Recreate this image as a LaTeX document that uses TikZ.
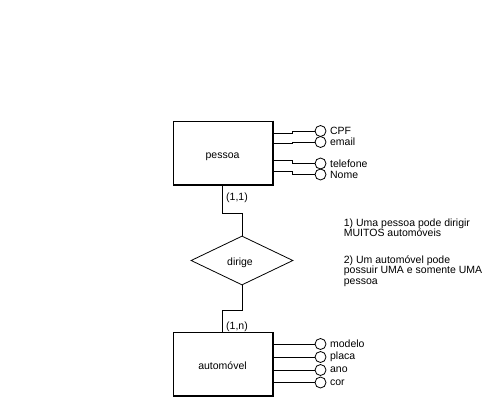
\documentclass[tikz,border=0pt]{standalone}
\usepackage{fontspec}
\setmainfont{Liberation Sans}
\usetikzlibrary{shapes.geometric}
\tikzset{
  entity/.style={draw, minimum width=99pt, minimum height=63pt, inner sep=0pt},
  relation/.style={draw, diamond, minimum width=102pt, minimum height=49pt, inner sep=0pt, aspect=2},
  attr/.style={draw, circle, minimum size=11pt, inner sep=0pt},
  note/.style={align=left, inner sep=0pt, anchor=north west},
}
\begin{document}
\begin{tikzpicture}[x=1pt, y=-1pt, font=\fontsize{10.5}{10.6}\selectfont, line width=0.8pt]
    \useasboundingbox (0,0) rectangle (494,403);
    \node[entity, label={[yshift=-4pt]center:pessoa}] (pessoa) at (222.5,152.5) {};
    \node[entity, label={[yshift=-2pt]center:automóvel}] (automovel) at (222.5,364) {};
    \node[relation, label={[yshift=-2pt,xshift=-2pt]center:dirige}] (dirige) at (242,260.5) {};
    % heavier right and bottom edges
    \foreach \e in {pessoa,automovel}
        \draw ([shift={(0.6,0)}]\e.north east) -- ([shift={(0.6,0.6)}]\e.south east) -- ([shift={(0,0.6)}]\e.south west);
    % attributes of pessoa
    \foreach \n/\txt/\y/\off in {cpf/CPF/131/13, email/email/142/23, telefone/telefone/163.5/39.5, nome/Nome/174.5/50.5} {
        \node[attr, label=right:\txt] (\n) at (320.5,\y) {};
        \draw ([yshift=-\off pt]pessoa.north east) -- ++(20,0) |- (\n.west);
    }
    % attributes of automovel
    \foreach \n/\txt/\y in {modelo/modelo/344, placa/placa/357, ano/ano/370, cor/cor/382.5} {
        \node[attr, label=right:\txt] (\n) at (320.5,\y) {};
        \draw (automovel.east |- \n) -- (\n.west);
    }
    \draw (pessoa.south) -- ++(0,29) node[pos=0.45,right] {(1,1)} -| (dirige.north);
    \draw (automovel.north) -- ++(0,-22) node[pos=0.25,right] {(1,n)} -| (dirige.south);
    \node[note] (regra1) at (343.5,218) {1) Uma pessoa pode dirigir\\MUITOS automóveis};
    \node[note] (regra2) at (343.5,255) {2) Um automóvel pode\\possuir UMA e somente UMA\\pessoa};
\end{tikzpicture}
\end{document}
